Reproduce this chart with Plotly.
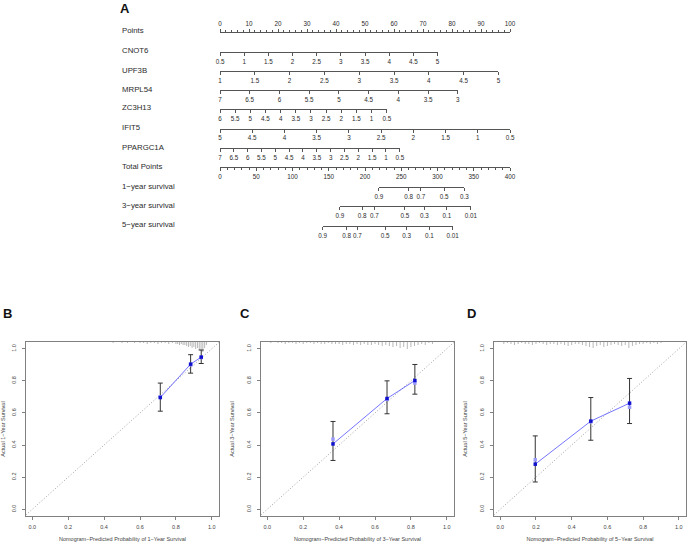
import numpy as np
import plotly.graph_objects as go

W, H = 688, 543
FONT = "Liberation Sans, Arial, Helvetica, sans-serif"

# ---------------- Nomogram data ----------------
points_max = 100
total_max = 400
variables = ["CNOT6", "UPF3B", "MRPL54", "ZC3H13", "IFIT5", "PPARGC1A"]
var_at_zero = [0.5, 1, 7, 6, 5, 7]          # value giving 0 points
var_at_max = [5, 5, 3, 0.5, 0.5, 0.5]       # value giving max points
var_max_points = [75, 96, 82, 57.5, 100, 62]
var_step = [0.5, 0.5, 0.5, 0.5, 0.5, 0.5]

surv_names = ["1\u2212year survival", "3\u2212year survival", "5\u2212year survival"]
surv_labels = [
    ["0.9", "0.8", "0.7", "0.5", "0.3"],
    ["0.9", "0.8", "0.7", "0.5", "0.3", "0.1", "0.01"],
    ["0.9", "0.8", "0.7", "0.5", "0.3", "0.1", "0.01"],
]
surv_total_points = [
    [219, 260, 277, 309, 337],
    [165.5, 196, 213, 255, 282, 313, 346],
    [141.6, 174.5, 189.5, 227.6, 257.5, 288.7, 321],
]

# ---------------- Calibration data ----------------
cal_titles = ["1", "3", "5"]
cal_pred = [[0.713, 0.882, 0.941], [0.366, 0.667, 0.822], [0.196, 0.507, 0.724]]
cal_obs = [[0.696, 0.904, 0.948], [0.407, 0.690, 0.802], [0.281, 0.549, 0.661]]
cal_lo = [[0.611, 0.848, 0.908], [0.304, 0.595, 0.717], [0.170, 0.430, 0.534]]
cal_hi = [[0.786, 0.963, 0.992], [0.547, 0.800, 0.902], [0.457, 0.696, 0.815]]
cal_corr = [[0.700, 0.900, 0.945], [0.437, 0.685, 0.786], [0.308, 0.545, 0.636]]

rug_b_x = [0.45, 0.50, 0.53, 0.57, 0.60, 0.62, 0.64, 0.66, 0.68, 0.70, 0.72, 0.74, 0.76, 0.78, 0.80, 0.81,
           0.82, 0.83, 0.84, 0.85, 0.86, 0.87, 0.88, 0.89, 0.90, 0.91, 0.92, 0.93, 0.94, 0.95, 0.96, 0.97]
rug_b_n = [1, 1, 1, 1, 1, 1, 2, 1, 1, 2, 1, 1, 2, 1, 2, 2, 3, 2, 3, 3, 4, 5, 4, 6, 5, 7, 6, 8, 9, 10, 6, 3]
rug_c_x = [0.02, 0.04, 0.06, 0.08, 0.10, 0.12, 0.14, 0.16, 0.18, 0.20, 0.22, 0.24, 0.26, 0.28, 0.30, 0.32,
           0.34, 0.36, 0.38, 0.40, 0.42, 0.44, 0.46, 0.48, 0.50, 0.52, 0.54, 0.56, 0.58, 0.60, 0.62, 0.64,
           0.66, 0.68, 0.70, 0.72, 0.74, 0.76, 0.78, 0.80, 0.82, 0.84, 0.86, 0.88, 0.90, 0.92]
rug_c_n = [1, 0, 1, 1, 2, 1, 1, 2, 1, 2, 1, 1, 2, 1, 2, 2, 1, 2, 2, 2, 3, 2, 2, 3, 2, 3, 2, 3, 3, 2,
           3, 4, 3, 4, 5, 4, 6, 5, 7, 5, 4, 3, 2, 3, 1, 2]
rug_d_x = [0.02, 0.04, 0.06, 0.08, 0.10, 0.12, 0.14, 0.16, 0.18, 0.20, 0.22, 0.24, 0.26, 0.28, 0.30, 0.32,
           0.34, 0.36, 0.38, 0.40, 0.42, 0.44, 0.46, 0.48, 0.50, 0.52, 0.54, 0.56, 0.58, 0.60, 0.62, 0.64,
           0.66, 0.68, 0.70, 0.72, 0.74, 0.76, 0.78, 0.80, 0.82, 0.84, 0.86, 0.88, 0.90]
rug_d_n = [2, 1, 2, 3, 2, 1, 2, 2, 3, 2, 1, 2, 3, 2, 2, 3, 2, 3, 4, 3, 2, 2, 3, 4, 5, 6, 4, 3, 5, 4,
           3, 2, 3, 4, 3, 6, 4, 3, 2, 2, 1, 2, 1, 2, 1]
rugs = [(rug_b_x, rug_b_n), (rug_c_x, rug_c_n), (rug_d_x, rug_d_n)]

# ---------------- Layout geometry (pixels) ----------------
PX0, PX1 = 220, 510          # Points 0..100 span
ROW_Y = [32, 52, 71, 90, 109, 128.5, 148, 167, 187, 206, 226]
LABEL_X = 120
AXC = "#555555"
TXC = "#2b2b2b"


def pts_to_px(p):
    return PX0 + p / points_max * (PX1 - PX0)


def tot_to_px(t):
    return PX0 + t / total_max * (PX1 - PX0)


def py(y):
    return 1 - y / H


fig = go.Figure()
layout = dict(
    width=W, height=H, paper_bgcolor="white", plot_bgcolor="rgba(0,0,0,0)",
    margin=dict(l=0, r=0, t=0, b=0), showlegend=False,
    font=dict(family=FONT, color=TXC),
)
layout["yaxis"] = dict(domain=[0.4, 1], range=[0, 1], visible=False, fixedrange=True)

annotations = []
row_names = ["Points"] + variables + ["Total Points"] + surv_names
for i, nm in enumerate(row_names):
    annotations.append(dict(text=nm, x=LABEL_X / W, y=py(ROW_Y[i] - 1), xref="paper", yref="paper",
                            xanchor="left", yanchor="middle", showarrow=False,
                            font=dict(size=7.8, color=TXC, family=FONT)))

axis_common = dict(showgrid=False, zeroline=False, showline=True, linecolor=AXC, linewidth=1,
                   ticks="outside", ticklen=3, tickwidth=1, tickcolor=AXC, anchor="free",
                   tickangle=0, tickfont=dict(size=6.3, color=TXC, family=FONT),
                   fixedrange=True, automargin=False)

axis_idx = 0


def add_axis(ax_def):
    global axis_idx
    axis_idx += 1
    key = "xaxis" if axis_idx == 1 else f"xaxis{axis_idx}"
    ref = "x" if axis_idx == 1 else f"x{axis_idx}"
    layout[key] = ax_def
    fig.add_trace(go.Scatter(x=[ax_def["range"][0]], y=[0.5], xaxis=ref, yaxis="y", mode="markers",
                             marker=dict(opacity=0), hoverinfo="skip"))


# Points axis
add_axis(dict(axis_common, domain=[PX0 / W, PX1 / W], range=[0, points_max], position=py(ROW_Y[0]),
              side="top", tickmode="linear", tick0=0, dtick=10,
              minor=dict(dtick=2, ticklen=2, ticks="outside", tickcolor=AXC, showgrid=False)))

# variable axes
for i, nm in enumerate(variables):
    lo, hi = var_at_zero[i], var_at_max[i]
    n = int(round(abs(hi - lo) / var_step[i]))
    tv = [lo + np.sign(hi - lo) * var_step[i] * k for k in range(n + 1)]
    add_axis(dict(axis_common, domain=[PX0 / W, pts_to_px(var_max_points[i]) / W], range=[lo, hi],
                  position=py(ROW_Y[1 + i]), side="bottom", tickmode="array",
                  tickvals=tv, ticktext=[f"{v:g}" for v in tv]))

# Total points axis
add_axis(dict(axis_common, domain=[PX0 / W, PX1 / W], range=[0, total_max], position=py(ROW_Y[7]),
              side="bottom", tickmode="linear", tick0=0, dtick=50,
              minor=dict(dtick=10, ticklen=2, ticks="outside", tickcolor=AXC, showgrid=False)))

# survival axes
for i in range(3):
    tp = surv_total_points[i]
    add_axis(dict(axis_common, domain=[tot_to_px(tp[0]) / W, tot_to_px(tp[-1]) / W],
                  range=[tp[0], tp[-1]], position=py(ROW_Y[8 + i]), side="bottom",
                  tickmode="array", tickvals=tp, ticktext=surv_labels[i]))

# ---------------- Calibration panels ----------------
BOX_X = [(26, 219), (261, 454), (494, 686)]
BOX_Y = (342, 516)
RNG = [-0.035, 1.04]
YR = [-0.042, 1.042]
PX_PER_Y = (BOX_Y[1] - BOX_Y[0]) / (YR[1] - YR[0])
BLUE = "#3a3aff"

for p in range(3):
    xi = axis_idx + 1 + p
    yi = 2 + p
    xk, yk = f"xaxis{xi}", f"yaxis{yi}"
    xr, yr = f"x{xi}", f"y{yi}"
    tickv = [0, 0.2, 0.4, 0.6, 0.8, 1.0]
    tickt = ["0.0", "0.2", "0.4", "0.6", "0.8", "1.0"]
    cal_ax = dict(showgrid=False, zeroline=False, showline=True, mirror=True, linecolor="#808080",
                  linewidth=1, ticks="outside", ticklen=3, tickcolor="#808080",
                  tickfont=dict(size=5.5, color="#444", family=FONT), tickmode="array",
                  tickvals=tickv, ticktext=tickt, fixedrange=True, automargin=False)
    layout[xk] = dict(cal_ax, domain=[BOX_X[p][0] / W, BOX_X[p][1] / W], range=RNG, anchor=yr,
                      ticklabelstandoff=2,
                      title=dict(text=f"Nomogram\u2212Predicted Probability of {cal_titles[p]}\u2212Year Survival",
                                 font=dict(size=5.5, color="#444", family=FONT), standoff=8))
    layout[yk] = dict(cal_ax, domain=[py(BOX_Y[1]), py(BOX_Y[0])], range=YR, anchor=xr,
                      tickangle=-90, ticklabelstandoff=4,
                      title=dict(text=f"Actual {cal_titles[p]}\u2212Year Survival",
                                 font=dict(size=5.5, color="#444", family=FONT), standoff=10))

    # rug histogram at top
    rx, rn = rugs[p]
    xs, ys = [], []
    for xv, nv in zip(rx, rn):
        if nv <= 0:
            continue
        xs += [xv, xv, None]
        ys += [YR[1], YR[1] - nv * 1.0 / PX_PER_Y, None]
    fig.add_trace(go.Scatter(x=xs, y=ys, mode="lines", line=dict(color="#9a9a9a", width=0.7),
                             xaxis=xr, yaxis=yr, hoverinfo="skip"))
    # diagonal reference
    fig.add_trace(go.Scatter(x=[RNG[0], RNG[1]], y=[RNG[0], RNG[1]], mode="lines",
                             line=dict(color="#777", width=0.7, dash="1px,2px"),
                             xaxis=xr, yaxis=yr, hoverinfo="skip"))
    # error bars
    obs = cal_obs[p]
    fig.add_trace(go.Scatter(x=cal_pred[p], y=obs, mode="markers", marker=dict(size=1, color="#333"),
                             error_y=dict(type="data", symmetric=False,
                                          array=[h - o for h, o in zip(cal_hi[p], obs)],
                                          arrayminus=[o - l for o, l in zip(obs, cal_lo[p])],
                                          color="#333", thickness=1, width=2.5),
                             xaxis=xr, yaxis=yr, hoverinfo="skip"))
    # corrected (light) markers
    fig.add_trace(go.Scatter(x=cal_pred[p], y=cal_corr[p], mode="markers",
                             marker=dict(symbol="square", size=3.5, color="#9a9aff"),
                             xaxis=xr, yaxis=yr, hoverinfo="skip"))
    # observed line + markers
    fig.add_trace(go.Scatter(x=cal_pred[p], y=obs, mode="lines+markers",
                             line=dict(color=BLUE, width=0.7),
                             marker=dict(symbol="square", size=3.5, color="#1010d0"),
                             xaxis=xr, yaxis=yr, hoverinfo="skip"))

# panel letters
for txt, x, y in [("A", 125, 9), ("B", 7, 313), ("C", 245, 313), ("D", 471, 313)]:
    annotations.append(dict(text=f"<b>{txt}</b>", x=x / W, y=py(y), xref="paper", yref="paper",
                            xanchor="center", yanchor="middle", showarrow=False,
                            font=dict(size=13, color="#111", family=FONT)))

layout["annotations"] = annotations
fig.update_layout(**layout)
fig.write_html(
    "out.html",
    config={"displayModeBar": False, "staticPlot": True},
    post_script="document.body.style.margin='0';document.body.style.padding='0';",
)
